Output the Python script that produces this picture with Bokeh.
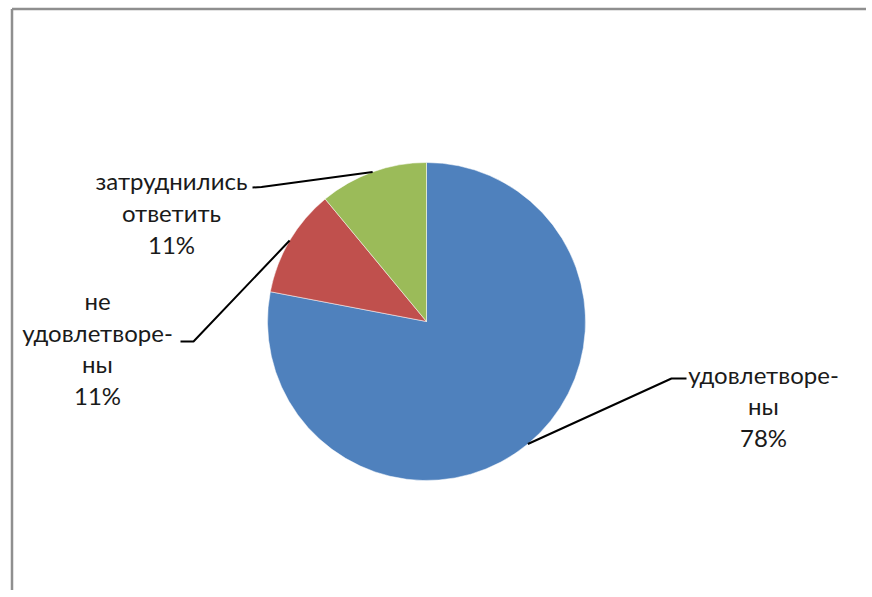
import math
from bokeh.plotting import figure
from bokeh.models import Range1d
from bokeh.core.properties import value
from bokeh.embed import file_html
from bokeh.resources import INLINE

# ---- data ----
categories = ["удовлетворены", "не удовлетворены", "затруднились ответить"]
shares = [78, 11, 11]
label_text = ["удовлетворе-\nны", "не\nудовлетворе-\nны", "затруднились\nответить"]
colors = ["#4F81BD", "#C0504D", "#9BBB59"]

# ---- layout (pixels) ----
W, H = 866, 590
CX, CY, R = 426, 269, 159
label_pos = [(763, 184.5), (97, 242.5), (171, 378)]        # centre of each label block
elbows = [((671, 212), (686, 212)), ((193, 249), (180, 249)), ((261, 403.5), (252, 403))]

p = figure(width=W, height=H, x_range=Range1d(0, W), y_range=Range1d(0, H),
           output_backend="svg", toolbar_location=None, min_border=0)
p.axis.visible = False
p.grid.visible = False
p.outline_line_color = None
p.background_fill_color = "white"
p.border_fill_color = "white"

# frame (top and left edges of the chart area)
p.line([11.5, W + 5], [581.5, 581.5], line_color="#8f8f8f", line_width=2.5)
p.line([11.5, 11.5], [-5, 581.5], line_color="#8f8f8f", line_width=2.5)

total = sum(shares)
cum = 0
starts, ends, mids = [], [], []
for v in shares:
    s = math.pi / 2 - 2 * math.pi * cum / total
    e = math.pi / 2 - 2 * math.pi * (cum + v) / total
    starts.append(s); ends.append(e); mids.append((s + e) / 2)
    cum += v

p.wedge(x=[CX] * 3, y=[CY] * 3, radius=R, start_angle=starts, end_angle=ends,
        direction="clock", fill_color=colors, line_color="white", line_width=0.5)

for m, (elb, end) in zip(mids, elbows):
    ex = CX + R * math.cos(m)
    ey = CY + R * math.sin(m)
    p.line([ex, elb[0], end[0]], [ey, elb[1], end[1]], line_color="black", line_width=2)

texts = [f"{t}\n{v}%" for t, v in zip(label_text, shares)]
p.text(x=[lp[0] for lp in label_pos], y=[lp[1] for lp in label_pos], text=texts,
       text_align="center", text_baseline="middle", text_font=value("Lato"),
       text_font_size="24px", text_line_height=1.09, text_color="#1a1a1a")

open("out.html", "w").write(file_html(p, INLINE))
